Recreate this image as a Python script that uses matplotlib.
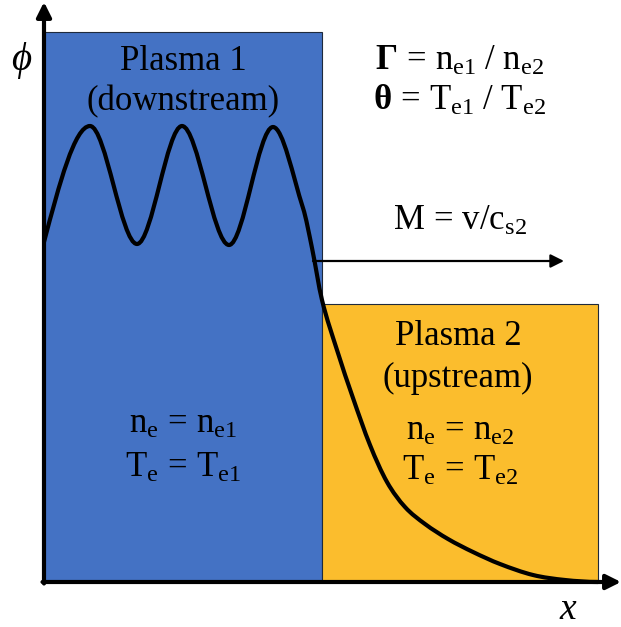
import numpy as np
import matplotlib
matplotlib.use("Agg")
import matplotlib.pyplot as plt
from matplotlib.patches import Rectangle, PathPatch
from matplotlib.path import Path

plt.rcParams["font.family"] = ["Liberation Serif", "DejaVu Serif"]
plt.rcParams["mathtext.fontset"] = "custom"
plt.rcParams["mathtext.rm"] = "Liberation Serif"
plt.rcParams["mathtext.it"] = "Liberation Serif:italic"
plt.rcParams["mathtext.bf"] = "Liberation Serif:bold"

# Regions: (left, width, height) in the x-phi plane
region_left = [0, 278]
region_width = [278, 276]
region_height = [550, 278]
region_colors = ["#4472C4", "#FBBD2D"]

# Potential profile knots (x, phi)
curve_x = [0, 46, 93, 138, 185, 229, 259, 268, 278, 293, 309, 326,
           343, 361, 381, 404, 429, 456, 489, 521, 554]
curve_y = [340, 456, 338, 456, 337, 455, 374, 334, 282, 232, 184,
           137, 100, 75, 58, 43, 30, 18, 7, 2, 0]


def knot_slopes(x, y):
    """Finite-difference slopes, flat at local extrema."""
    x = np.asarray(x, float)
    y = np.asarray(y, float)
    d = np.diff(y) / np.diff(x)
    m = np.zeros_like(y)
    for k in range(1, len(x) - 1):
        if d[k - 1] * d[k] <= 0:
            m[k] = 0.0
        else:
            m[k] = (y[k + 1] - y[k - 1]) / (x[k + 1] - x[k - 1])
    m[0] = 1.5 * d[0]
    m[-1] = 0.0
    return m


def hermite_path(x, y):
    m = knot_slopes(x, y)
    verts = [(x[0], y[0])]
    codes = [Path.MOVETO]
    for k in range(len(x) - 1):
        h = x[k + 1] - x[k]
        verts += [(x[k] + h / 3, y[k] + m[k] * h / 3),
                  (x[k + 1] - h / 3, y[k + 1] - m[k + 1] * h / 3),
                  (x[k + 1], y[k + 1])]
        codes += [Path.CURVE4] * 3
    return Path(verts, codes)


fig = plt.figure(figsize=(6.21, 6.27), dpi=100)
ax = fig.add_axes([0, 0, 1, 1])
ax.set_xlim(-44, 577)
ax.set_ylim(-45, 582)
ax.axis("off")

for left, w, hgt, c in zip(region_left, region_width, region_height, region_colors):
    ax.add_patch(Rectangle((left, 0), w, hgt, facecolor=c,
                           edgecolor="#1E2A3C", lw=0.8, zorder=1))

ax.add_patch(PathPatch(hermite_path(curve_x, curve_y), facecolor="none",
                       edgecolor="black", lw=3.0, capstyle="round",
                       joinstyle="round", zorder=3))

# Axes arrows
ax.annotate("", xy=(0, 580), xytext=(0, -1.5),
            arrowprops=dict(arrowstyle="-|>", lw=3.0, color="black",
                            mutation_scale=22, shrinkA=0, shrinkB=0), zorder=4)
ax.annotate("", xy=(577, 0), xytext=(-1.5, 0),
            arrowprops=dict(arrowstyle="-|>", lw=3.0, color="black",
                            mutation_scale=22, shrinkA=0, shrinkB=0), zorder=4)

# Flow direction arrow
ax.annotate("", xy=(520, 321), xytext=(269, 321),
            arrowprops=dict(arrowstyle="-|>", lw=1.6, color="black",
                            mutation_scale=20, shrinkA=0, shrinkB=0), zorder=4)

fs = 25
kw = dict(ha="center", va="baseline", fontsize=fs, color="black", zorder=5)
ax.text(139, 512, "Plasma 1", **kw)
ax.text(139, 472, "(downstream)", **kw)
ax.text(139, 149, r"$\mathrm{n_e\,=\,n_{e1}}$", **kw)
ax.text(139, 105, r"$\mathrm{T_e\,=\,T_{e1}}$", **kw)

ax.text(414, 237, "Plasma 2", **kw)
ax.text(414, 195, "(upstream)", **kw)
ax.text(416, 142, r"$\mathrm{n_e\,=\,n_{e2}}$", **kw)
ax.text(416, 102, r"$\mathrm{T_e\,=\,T_{e2}}$", **kw)

ax.text(416, 512, r"$\mathbf{\Gamma}\,=\,\mathrm{n_{e1}\ /\ n_{e2}}$", **kw)
ax.text(416, 472, r"$\mathbf{\theta}\,=\,\mathrm{T_{e1}\ /\ T_{e2}}$", **kw)
ax.text(416, 352, r"$\mathrm{M\,=\,v/c_{s2}}$", **kw)

ax.text(-22, 512, r"$\phi$", ha="center", va="baseline", fontsize=28)
ax.text(524, -37, r"$x$", ha="center", va="baseline", fontsize=27)

fig.savefig("out.png", dpi=100)
